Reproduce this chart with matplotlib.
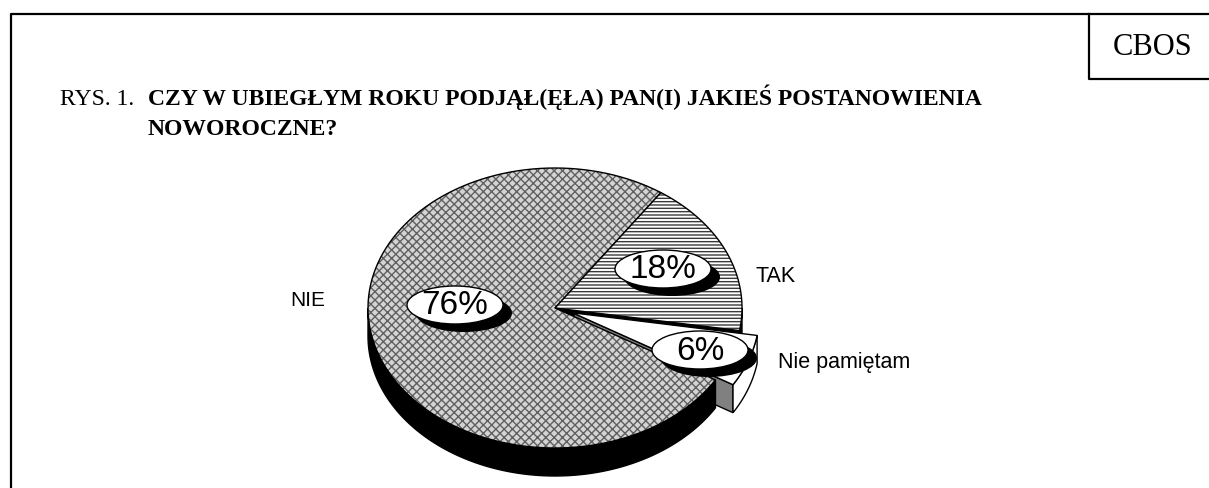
import numpy as np
import matplotlib.pyplot as plt
from matplotlib.patches import Polygon, Ellipse

# survey answers, clockwise from the top-right
labels = ['TAK', 'Nie pamiętam', 'NIE']
values = [18, 6, 76]
explode = [0, 0.1, 0]

title_prefix = 'RYS. 1.'
title_lines = ['CZY W UBIEGŁYM ROKU PODJĄŁ(ĘŁA) PAN(I) JAKIEŚ POSTANOWIENIA',
               'NOWOROCZNE?']

plt.rcParams['hatch.linewidth'] = 1.0

fig = plt.figure(figsize=(12.09, 4.88), dpi=100)
ax = fig.add_axes([0, 0, 1, 1])
ax.set_xlim(0, 1209)
ax.set_ylim(488, 0)
ax.axis('off')

# frame and CBOS box
ax.plot([11, 11, 1209], [488, 13.5, 13.5], color='black', lw=1.6, solid_capstyle='projecting')
ax.plot([1089, 1089, 1209], [13.5, 79, 79], color='black', lw=1.6)
ax.text(1113, 55, 'CBOS', fontsize=22, family='Liberation Serif', va='baseline')

# title
ax.text(60, 105, title_prefix, fontsize=17, family='Liberation Serif', va='baseline')
ax.text(148, 105, title_lines[0], fontsize=17, family='Liberation Serif',
        weight='bold', va='baseline')
ax.text(148, 135, title_lines[1], fontsize=17, family='Liberation Serif',
        weight='bold', va='baseline')

# 3d pie geometry
cx, cy, rx, ry, depth = 555, 308, 187, 140, 28
start = 55.5
total = sum(values)


def to_xy(t, off, z=0):
    return cx + rx * (np.cos(t) + off[0]), cy - ry * (np.sin(t) + off[1]) + z


def arc(lo, hi, off, z=0, n=120):
    t = np.radians(np.linspace(lo, hi, n))
    x, y = to_xy(t, off, z)
    return np.column_stack([x, y])


def front_parts(lo, hi):
    parts = []
    for k in (-1, 0, 1):
        a0, a1 = max(lo, -180 + 360 * k), min(hi, 360 * k)
        if a1 > a0:
            parts.append((a0, a1))
    return parts


slices = []
a = start
for lab, v, ex in zip(labels, values, explode):
    span = v / total * 360
    lo, hi = a - span, a
    mid = np.radians((lo + hi) / 2)
    off = (ex * np.cos(mid), ex * np.sin(mid))
    slices.append(dict(label=lab, value=v, lo=lo, hi=hi, off=off))
    a -= span

styles = {
    'TAK': dict(fc='white', hatch='-----', hcol='#3a3a3a', wall='black', face='black'),
    'Nie pamiętam': dict(fc='white', hatch=None, hcol='white', wall='white', face='#808080'),
    'NIE': dict(fc='#d4d4d4', hatch='xxxx', hcol='#606060', wall='black', face='black'),
}


def draw_sides(s):
    st = styles[s['label']]
    off = s['off']
    c0 = (cx + rx * off[0], cy - ry * off[1])
    # radial face on the clockwise edge (visible when facing the viewer)
    if np.cos(np.radians(s['lo'])) > 0:
        r_top = arc(s['lo'], s['lo'], off, 0, 2)[0]
        pts = [c0, r_top, (r_top[0], r_top[1] + depth), (c0[0], c0[1] + depth)]
        ax.add_patch(Polygon(pts, closed=True, fc=st['face'], ec='black', lw=1, zorder=2))
    for a0, a1 in front_parts(s['lo'], s['hi']):
        top = arc(a0, a1, off)
        bot = arc(a0, a1, off, depth)[::-1]
        ax.add_patch(Polygon(np.vstack([top, bot]), closed=True,
                             fc=st['wall'], ec='black', lw=1, zorder=2))


def draw_top(s):
    st = styles[s['label']]
    off = s['off']
    c0 = (cx + rx * off[0], cy - ry * off[1])
    pts = np.vstack([[c0], arc(s['lo'], s['hi'], off)])
    if st['hatch']:
        ax.add_patch(Polygon(pts, closed=True, fc=st['fc'], ec=st['hcol'], lw=0,
                             hatch=st['hatch'], zorder=3))
    else:
        ax.add_patch(Polygon(pts, closed=True, fc=st['fc'], lw=0, zorder=3))
    ax.add_patch(Polygon(pts, closed=True, fill=False, ec='black', lw=1, zorder=3))


by_label = {s['label']: s for s in slices}
draw_sides(by_label['TAK'])
draw_sides(by_label['Nie pamiętam'])
draw_top(by_label['Nie pamiętam'])
draw_sides(by_label['NIE'])
draw_top(by_label['NIE'])
draw_top(by_label['TAK'])

# value bubbles with drop shadow
bubble_pos = {'NIE': (455, 305), 'TAK': (663, 269), 'Nie pamiętam': (700, 350)}
bw, bh = 96, 38
for s in slices:
    bx, by = bubble_pos[s['label']]
    ax.add_patch(Ellipse((bx + 9, by + 8), bw, bh, fc='black', ec='none', zorder=5))
    ax.add_patch(Ellipse((bx, by), bw, bh, fc='white', ec='black', lw=1, zorder=6))
    ax.text(bx, by + 1, f"{s['value']}%", fontsize=24, family='Liberation Sans',
            ha='center', va='center', zorder=7)

# category labels
ax.text(325, 306, 'NIE', fontsize=15, family='Liberation Sans', ha='right', va='baseline')
ax.text(755, 282, 'TAK', fontsize=15.5, family='Liberation Sans', va='baseline')
ax.text(778, 368, 'Nie pamiętam', fontsize=15.5, family='Liberation Sans', va='baseline')

fig.savefig('out.png', dpi=100, facecolor='white')
